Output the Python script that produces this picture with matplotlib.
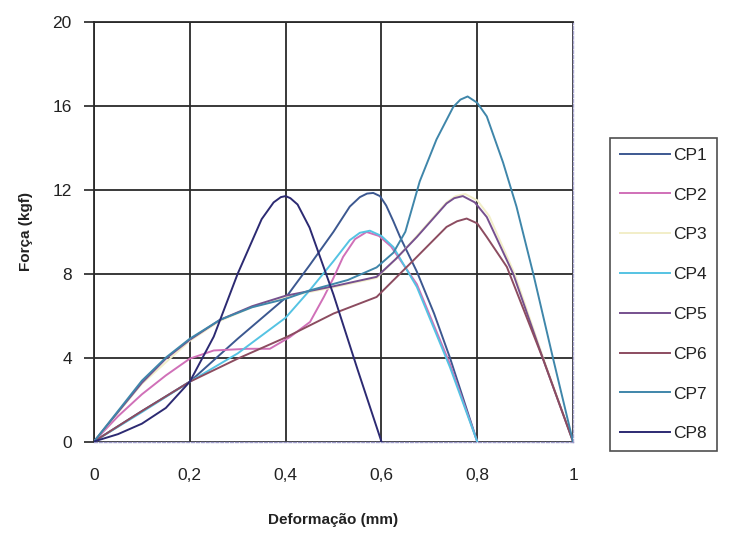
import matplotlib
matplotlib.use("Agg")
import matplotlib.pyplot as plt

plt.rcParams['font.family'] = ['Liberation Sans', 'DejaVu Sans']

labels = ["CP1", "CP2", "CP3", "CP4", "CP5", "CP6", "CP7", "CP8"]
colors = ["#3c5890", "#d070b8", "#f2eec8", "#55c3e3", "#76508e", "#8c4c60", "#3f86aa", "#2c2a72"]

cp1_x = [0, 0.1, 0.2, 0.3, 0.4, 0.45, 0.5, 0.534, 0.555, 0.57, 0.583, 0.597, 0.61, 0.625, 0.639, 0.674, 0.71, 0.743, 0.8]
cp1_y = [0, 1.45, 2.85, 4.9, 6.85, 8.4, 10.0, 11.2, 11.65, 11.82, 11.85, 11.7, 11.25, 10.5, 9.75, 8.1, 6.1, 4.0, 0]

cp2_x = [0, 0.05, 0.1, 0.15, 0.2, 0.25, 0.32, 0.367, 0.409, 0.451, 0.48, 0.5, 0.52, 0.545, 0.569, 0.595, 0.62, 0.674, 0.743, 0.8]
cp2_y = [0, 1.2, 2.25, 3.15, 3.95, 4.34, 4.42, 4.42, 4.98, 5.7, 6.9, 7.8, 8.8, 9.65, 9.99, 9.8, 9.3, 7.5, 3.7, 0]

cp3_x = [0, 0.1, 0.2, 0.263, 0.33, 0.4, 0.5, 0.59, 0.63, 0.674, 0.736, 0.755, 0.775, 0.8, 0.825, 0.878, 0.94, 1.0]
cp3_y = [0, 2.75, 4.8, 5.75, 6.4, 6.9, 7.35, 7.8, 8.7, 9.8, 11.4, 11.7, 11.8, 11.5, 10.75, 8.0, 3.85, 0]

cp4_x = [0, 0.1, 0.2, 0.3, 0.4, 0.45, 0.5, 0.534, 0.555, 0.576, 0.6, 0.625, 0.674, 0.743, 0.8]
cp4_y = [0, 1.4, 2.85, 4.2, 5.9, 7.2, 8.6, 9.6, 9.95, 10.05, 9.8, 9.27, 7.37, 3.55, 0]

cp5_x = [0, 0.05, 0.1, 0.15, 0.2, 0.263, 0.33, 0.4, 0.5, 0.59, 0.63, 0.674, 0.736, 0.752, 0.77, 0.795, 0.82, 0.875, 0.938, 1.0]
cp5_y = [0, 1.4, 2.8, 3.95, 4.85, 5.8, 6.45, 6.95, 7.4, 7.85, 8.7, 9.75, 11.35, 11.6, 11.7, 11.4, 10.7, 8.0, 3.9, 0]

cp6_x = [0, 0.1, 0.2, 0.3, 0.402, 0.5, 0.59, 0.667, 0.736, 0.758, 0.778, 0.8, 0.82, 0.862, 0.938, 1.0]
cp6_y = [0, 1.45, 2.85, 3.95, 4.98, 6.1, 6.89, 8.64, 10.23, 10.5, 10.63, 10.4, 9.75, 8.32, 3.9, 0]

cp7_x = [0, 0.05, 0.1, 0.15, 0.2, 0.263, 0.33, 0.4, 0.45, 0.53, 0.59, 0.625, 0.65, 0.68, 0.715, 0.75, 0.765, 0.78, 0.8, 0.82, 0.854, 0.882, 0.917, 0.959, 1.0]
cp7_y = [0, 1.45, 2.9, 4.0, 4.9, 5.8, 6.4, 6.8, 7.2, 7.7, 8.3, 9.0, 10.0, 12.4, 14.4, 15.95, 16.3, 16.45, 16.15, 15.5, 13.3, 11.2, 8.0, 3.9, 0]

cp8_x = [0, 0.05, 0.1, 0.15, 0.2, 0.25, 0.3, 0.35, 0.375, 0.39, 0.4, 0.41, 0.425, 0.45, 0.5, 0.55, 0.6]
cp8_y = [0, 0.35, 0.85, 1.6, 2.85, 5.0, 8.0, 10.6, 11.4, 11.65, 11.7, 11.6, 11.3, 10.2, 7.0, 3.45, 0]

series_x = [cp1_x, cp2_x, cp3_x, cp4_x, cp5_x, cp6_x, cp7_x, cp8_x]
series_y = [cp1_y, cp2_y, cp3_y, cp4_y, cp5_y, cp6_y, cp7_y, cp8_y]

x_ticks = [0, 0.2, 0.4, 0.6, 0.8, 1.0]
x_tick_labels = ["0", "0,2", "0,4", "0,6", "0,8", "1"]
y_ticks = [0, 4, 8, 12, 16, 20]
y_tick_labels = ["0", "4", "8", "12", "16", "20"]

fig = plt.figure(figsize=(7.29, 5.46), dpi=100)
ax = fig.add_axes([94 / 729, 1 - 441.5 / 546, (573 - 94) / 729, (441.5 - 22) / 546])

handles = []
for xs, ys, c, lab in zip(series_x, series_y, colors, labels):
    h, = ax.plot(xs, ys, color=c, lw=1.4, label=lab, zorder=3,
                 solid_joinstyle='round')
    handles.append(h)

ax.set_xlim(0, 1)
ax.set_ylim(0, 20)
ax.set_xticks(x_ticks)
ax.set_xticklabels(x_tick_labels)
ax.set_yticks(y_ticks)
ax.set_yticklabels(y_tick_labels)
ax.grid(True, color="#2a2a2a", lw=1.3, zorder=1)
ax.set_axisbelow(True)

ax.tick_params(axis='x', length=0, pad=19, labelsize=12.5, colors="#222222")
ax.tick_params(axis='y', length=7, width=1.2, pad=9, labelsize=12.5, colors="#222222", direction='out')

for s in ['left', 'top']:
    ax.spines[s].set_color("#2a2a2a")
    ax.spines[s].set_linewidth(1.3)
ax.spines['right'].set_color("#a6a4d0")
ax.spines['right'].set_linestyle((0, (2, 1.5)))
ax.spines['right'].set_linewidth(1.0)
ax.spines['bottom'].set_color("#9c9ac8")
ax.spines['bottom'].set_linestyle((0, (2, 1.5)))
ax.spines['bottom'].set_linewidth(1.0)

ax.set_ylabel("Força (kgf)", fontsize=11, fontweight='bold', color="#222222", labelpad=14)
ax.set_xlabel("Deformação (mm)", fontsize=11, fontweight='bold', color="#222222", labelpad=22)

leg = fig.legend(handles=handles, labels=labels, loc='upper left',
                 bbox_to_anchor=(610 / 729, 1 - 138 / 546), fontsize=12.5,
                 frameon=True, fancybox=False, edgecolor="#222222",
                 handlelength=2.9, handletextpad=0.2, labelspacing=1.42,
                 borderpad=0.55, borderaxespad=0)
leg.get_frame().set_linewidth(1.2)
for t in leg.get_texts():
    t.set_color("#222222")

fig.savefig("out.png", dpi=100, facecolor="white")
